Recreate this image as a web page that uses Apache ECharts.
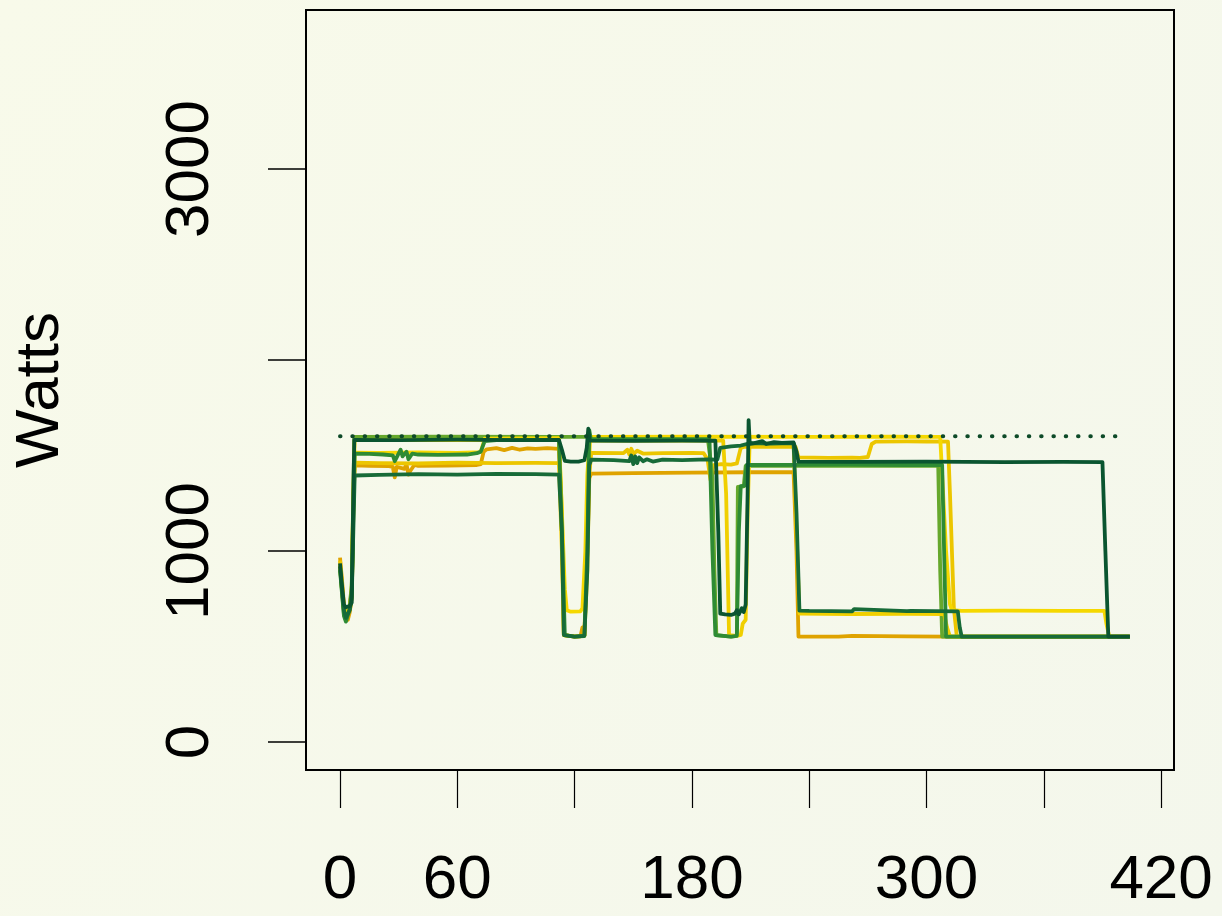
<!DOCTYPE html>
<html>
<head>
<meta charset="utf-8">
<script src="https://cdn.jsdelivr.net/npm/echarts@6/dist/echarts.min.js"></script>
<style>
html,body{margin:0;padding:0;width:1222px;height:916px;overflow:hidden;}
#c{width:1222px;height:916px;}
</style>
</head>
<body>
<div id="c"></div>
<script>
// ---- data (time in s, power in W) ----
const xTickValues = [0, 60, 120, 180, 240, 300, 360, 420];
const xLabelValues = [0, 60, 180, 300, 420];
const yTickValues = [0, 1000, 2000, 3000];
const yLabelValues = [0, 1000, 3000];
const refLevel = 1600;
const refSpan = [0, 400];

const seriesGold = [[0,965],[1,850],[2,720],[3,660],[4,640],[5,680],[6,760],[6.8,1250],[7.5,1448],[15,1446],[25,1444],[27,1440],[28,1385],[29,1440],[30,1445],[33,1430],[34,1455],[35,1400],[36,1420],[38,1450],[40,1445],[55,1447],[70,1450],[72,1455],[73.5,1520],[75,1532],[80,1538],[84,1528],[88,1540],[92,1530],[96,1537],[100,1534],[106,1538],[112,1535],[113.5,1100],[114.5,560],[120,552],[123,553],[124,600],[125,560],[126.5,1000],[127.5,1380],[128.5,1405],[150,1408],[180,1410],[210,1412],[232,1413],[233.5,1000],[234.5,552],[255,552],[262,556],[263,552],[290,553],[310,552],[404,552]];

const seriesYellowB = [[0,950],[1,830],[2,700],[3,660],[4,655],[5,690],[6,760],[6.8,1200],[7.5,1462],[20,1460],[40,1458],[60,1462],[80,1460],[100,1461],[112,1460],[113.5,1000],[114.5,560],[120,552],[125,556],[126.5,900],[127.5,1400],[128.5,1513],[145,1512],[147,1530],[148,1505],[149,1535],[150,1508],[152,1525],[155,1510],[165,1512],[180,1514],[186,1512],[188,1480],[189.5,1372],[191,1450],[195,1455],[200,1452],[203,1458],[205,1540],[207,1546],[220,1545],[233,1546],[234.5,1490],[250,1487],[262,1488],[266,1487],[270,1492],[272,1560],[274,1572],[290,1574],[300,1573],[311,1572],[312,1300],[314,700],[315.5,552],[404,552]];

const seriesLightGreen = [[0,910],[1,790],[2,670],[3,640],[4,650],[5,720],[6,820],[6.8,1300],[7.3,1597],[50,1598],[112,1597],[150,1597],[188,1597],[189.5,1480],[190.5,1380],[191.5,900],[192.5,560],[200,552],[203,555],[203.5,1335],[206.5,1338],[207.5,1445],[250,1446],[306,1445],[307,900],[308,552],[404,552]];

const seriesYellowA = [[0,925],[1,800],[2,690],[3,650],[4,650],[5,700],[6,780],[6.8,1250],[7.5,1515],[20,1513],[40,1516],[60,1514],[72,1518],[74,1588],[112,1590],[113.5,1200],[115,800],[116,690],[118,682],[123,684],[124,700],[125.5,1000],[126.5,1400],[127.8,1597],[180,1598],[240,1597],[280,1598],[307,1597],[308,1400],[310,1000],[312,720],[313,690],[318,686],[340,688],[370,686],[391,686],[392,620],[393.5,552],[404,552]];

const seriesYellowF = [[0,930],[1,810],[2,690],[3,655],[4,660],[5,710],[6,800],[6.8,1300],[7.5,1580],[112,1580],[113.5,1200],[114.5,560],[120,553],[125,556],[126.5,1100],[127.8,1578],[160,1578],[196,1578],[197.5,1300],[199,560],[203,555],[205,560],[206,620],[207.5,640],[208.5,1200],[209.5,1560],[220,1562],[232,1560],[233.5,1100],[235,672],[260,670],[290,671],[309,670],[310.5,600],[312,552],[404,552]];

const seriesMidGreen = [[0,900],[1,780],[2,660],[3,630],[4,640],[5,700],[6,800],[6.8,1200],[7.5,1510],[15,1508],[22,1505],[27,1500],[28,1470],[29,1490],[31,1530],[32,1495],[34,1520],[35,1480],[37,1510],[40,1505],[50,1503],[65,1505],[70,1512],[72,1520],[74,1575],[80,1580],[100,1582],[112,1580],[113.5,1100],[115,560],[120,552],[125,555],[126.5,1000],[127.5,1633],[128.3,1585],[160,1586],[189,1585],[190.5,1000],[192,560],[200,552],[203,556],[204,1100],[205,1340],[207,1342],[208,1450],[230,1451],[260,1452],[290,1450],[308,1450],[309,1000],[310,552],[404,552]];

const seriesDarkGreenB = [[0,920],[1,800],[2,690],[3,650],[4,645],[5,690],[6,760],[6.8,1100],[7.5,1395],[20,1398],[40,1402],[60,1400],[80,1404],[100,1402],[112,1400],[113.5,1100],[114.5,560],[120,552],[125,556],[126.5,900],[127.5,1450],[128.5,1478],[140,1476],[148,1470],[149,1500],[150,1455],[151,1495],[152,1460],[153,1490],[155,1470],[157,1480],[160,1468],[165,1478],[175,1476],[188,1480],[193,1478],[194.5,1540],[200,1548],[205,1552],[210,1565],[220,1562],[232,1565],[233.5,1200],[235,688],[240,686],[262,684],[263,696],[264,686],[290,685],[291,694],[292,686],[316,684],[317,600],[318,552],[404,552]];

const seriesDarkGreen = [[0,935],[1,820],[2,720],[3,705],[4,700],[5,712],[6,730],[6.8,1300],[7.3,1582],[30,1580],[60,1583],[90,1580],[112,1581],[113.5,1530],[115,1472],[118,1468],[122,1468],[125,1475],[126.2,1540],[127,1640],[127.8,1578],[150,1576],[175,1578],[192,1577],[193.5,1100],[194.5,672],[197,668],[200,665],[202,672],[203,690],[204,668],[205.5,700],[206.5,680],[207.5,720],[208.5,1300],[209,1685],[209.6,1560],[212,1565],[216,1575],[218,1560],[222,1570],[226,1566],[232,1568],[233.5,1520],[234.5,1468],[260,1466],[300,1468],[340,1465],[370,1466],[390,1465],[391.5,1000],[393,552],[404,552]];

const seriesList = [
  {name:'gold', data:seriesGold, color:'#dfa300'},
  {name:'yellowB', data:seriesYellowB, color:'#ecc600'},
  {name:'lightGreen', data:seriesLightGreen, color:'#66a82c'},
  {name:'yellowA', data:seriesYellowA, color:'#f5d800'},
  {name:'yellowF', data:seriesYellowF, color:'#f0cf00'},
  {name:'midGreen', data:seriesMidGreen, color:'#2e8b34'},
  {name:'darkGreenB', data:seriesDarkGreenB, color:'#176b38'},
  {name:'darkGreen', data:seriesDarkGreen, color:'#0a5530'}
];

const chart = echarts.init(document.getElementById('c'), null, {renderer:'canvas'});
const series = seriesList.map(s => ({
  type:'line', name:s.name, data:s.data, symbol:'none', silent:true,
  lineStyle:{color:s.color, width:3.8, join:'round'}, z:2
}));
series.push({
  type:'line', name:'ref', data:[[refSpan[0], refLevel],[refSpan[1], refLevel]],
  symbol:'none', silent:true, z:3,
  lineStyle:{color:'#0d4a28', width:4, type:[0.5, 11.8], cap:'round'}
});

const fmt = v => String(v);
chart.setOption({
  animation:false,
  backgroundColor:{type:'linear', x:0, y:0, x2:1, y2:1, colorStops:[{offset:0,color:'#f8faea'},{offset:1,color:'#f4f7ec'}]},
  grid:{left:306, top:10, width:868, height:760, show:true, borderColor:'#000', borderWidth:2, backgroundColor:'transparent'},
  xAxis:{
    type:'value', min:-17.4, max:426.6,
    axisLine:{show:false, onZero:false},
    axisTick:{show:true, customValues:xTickValues, length:38, inside:false, lineStyle:{color:'#000', width:1.2}},
    axisLabel:{customValues:xLabelValues, formatter:fmt, fontSize:62, fontFamily:'Liberation Sans, Arial, sans-serif', color:'#000', margin:80},
    splitLine:{show:false}
  },
  yAxis:{
    type:'value', min:-146.6, max:3832,
    axisLine:{show:false, onZero:false},
    axisTick:{show:true, customValues:yTickValues, length:38, inside:false, lineStyle:{color:'#000', width:1.5}},
    axisLabel:{customValues:yLabelValues, formatter:fmt, rotate:90, fontSize:62, fontFamily:'Liberation Sans, Arial, sans-serif', color:'#000', margin:84},
    splitLine:{show:false},
    name:'Watts', nameLocation:'middle', nameRotate:90, nameGap:234,
    nameTextStyle:{fontSize:62, fontFamily:'Liberation Sans, Arial, sans-serif', color:'#000'}
  },
  series:series
});
</script>
</body>
</html>
